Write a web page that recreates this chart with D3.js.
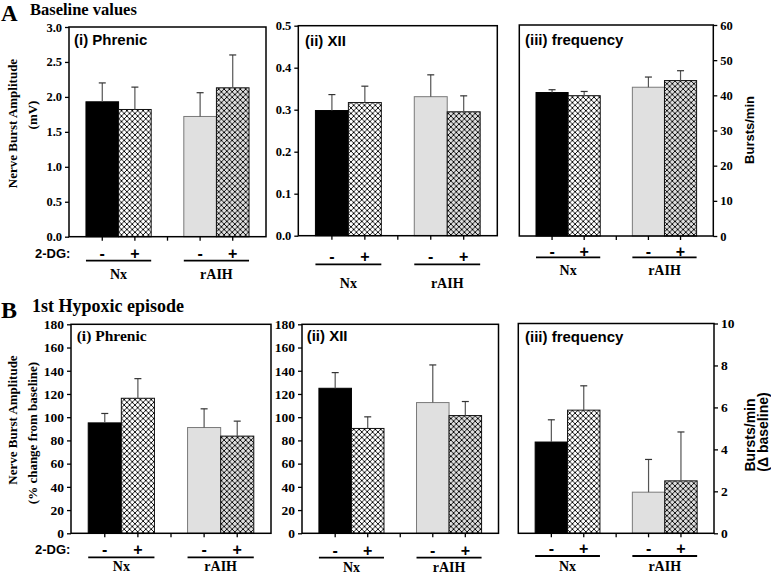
<!DOCTYPE html>
<html><head><meta charset="utf-8">
<script src="https://cdn.jsdelivr.net/npm/d3@7"></script>
<style>body{margin:0;background:#fff} svg{display:block}</style>
</head><body>
<svg id="c" width="771" height="575"></svg>
<script>
// ---------- data ----------
const conditions = ["Nx -", "Nx +", "rAIH -", "rAIH +"];
const slots = ["Nx -", "Nx +", "gap", "rAIH -", "rAIH +"];
const groups = ["Nx", "rAIH"];
const drugLabels = ["-", "+", "-", "+"];

const baselinePhrenicMean = [1.93, 1.82, 1.72, 2.13];
const baselinePhrenicSem  = [0.27, 0.32, 0.34, 0.47];
const baselineXIIMean = [0.298, 0.317, 0.331, 0.295];
const baselineXIISem  = [0.038, 0.039, 0.052, 0.038];
const baselineFreqMean = [40.8, 39.9, 42.3, 44.2];
const baselineFreqSem  = [0.8, 1.2, 2.9, 2.8];

const hypoxPhrenicMean = [95.1, 116.3, 91.1, 83.7];
const hypoxPhrenicSem  = [8.1, 16.9, 16.1, 12.9];
const hypoxXIIMean = [124.9, 90.3, 112.6, 101.4];
const hypoxXIISem  = [13.5, 10.0, 32.4, 12.1];
const hypoxFreqMean = [4.35, 5.87, 1.96, 2.50];
const hypoxFreqSem  = [1.06, 1.16, 1.56, 2.33];

const ticksBaselinePhrenic = [0, 0.5, 1.0, 1.5, 2.0, 2.5, 3.0];
const ticksBaselineXII = [0, 0.1, 0.2, 0.3, 0.4, 0.5];
const ticksBaselineFreq = [0, 10, 20, 30, 40, 50, 60];
const ticksHypoxAmp = [0, 20, 40, 60, 80, 100, 120, 140, 160, 180];
const ticksHypoxFreq = [0, 2, 4, 6, 8, 10];

// ---------- setup ----------
const SERIF = "'Liberation Serif','Times New Roman',serif";
const SANS = "'Liberation Sans',Arial,sans-serif";
const svg = d3.select("#c");
const defs = svg.append("defs");
function hatch(id, bg) {
  const s = 5.4;
  const p = defs.append("pattern").attr("id", id).attr("patternUnits", "userSpaceOnUse")
    .attr("width", s).attr("height", s);
  p.append("rect").attr("width", s).attr("height", s).attr("fill", bg);
  p.append("path").attr("d", `M-1,-1L${s+1},${s+1}M${s+1},-1L-1,${s+1}`)
    .attr("stroke", "#000").attr("stroke-width", 0.9);
}
hatch("hatchW", "#ffffff");
hatch("hatchG", "#dedede");
const fills = {"Nx -": "#000", "Nx +": "url(#hatchW)", "rAIH -": "#e0e0e0", "rAIH +": "url(#hatchG)"};
const strokes = {"Nx -": "#000", "Nx +": "#111", "rAIH -": "#7a7a7a", "rAIH +": "#111"};

function panel(c) {
  const {x0, x1, y0, y1} = c.box;
  const x = d3.scaleBand().domain(slots).range([x0, x1]).paddingInner(0).paddingOuter(0.52);
  const y = d3.scaleLinear().domain([0, c.ticks[c.ticks.length - 1]]).range([y1, y0]);
  const g = svg.append("g");
  // bars
  g.selectAll("rect.bar").data(conditions).join("rect").attr("class", "bar")
    .attr("x", d => x(d)).attr("width", x.bandwidth())
    .attr("y", (d, i) => y(c.mean[i])).attr("height", (d, i) => y(0) - y(c.mean[i]))
    .attr("fill", d => fills[d]).attr("stroke", d => strokes[d]).attr("stroke-width", 1);
  // error bars
  const cx = d => x(d) + x.bandwidth() / 2;
  g.selectAll("line.err").data(conditions).join("line").attr("class", "err")
    .attr("x1", cx).attr("x2", cx)
    .attr("y1", (d, i) => y(c.mean[i])).attr("y2", (d, i) => y(c.mean[i] + c.sem[i]))
    .attr("stroke", "#555").attr("stroke-width", 1.2);
  g.selectAll("line.cap").data(conditions).join("line").attr("class", "cap")
    .attr("x1", d => cx(d) - 3.5).attr("x2", d => cx(d) + 3.5)
    .attr("y1", (d, i) => y(c.mean[i] + c.sem[i])).attr("y2", (d, i) => y(c.mean[i] + c.sem[i]))
    .attr("stroke", "#333").attr("stroke-width", 1.2);
  // frame
  g.append("rect").attr("x", x0).attr("y", y0).attr("width", x1 - x0).attr("height", y1 - y0)
    .attr("fill", "none").attr("stroke", "#000").attr("stroke-width", 1.5);
  // y axis
  const ax = (c.right ? d3.axisRight(y) : d3.axisLeft(y))
    .tickValues(c.ticks).tickFormat(d3.format(c.fmt)).tickSize(4).tickPadding(3);
  const ag = g.append("g").attr("transform", `translate(${c.right ? x1 : x0},0)`).call(ax);
  ag.select(".domain").remove();
  ag.selectAll("line").attr("stroke", "#000").attr("stroke-width", 1.3);
  ag.selectAll("text").attr("font-family", SERIF).attr("font-weight", "bold")
    .attr("font-size", c.tickSize).attr("fill", "#000");
  // x axis ticks
  const xg = g.append("g").attr("transform", `translate(0,${y1})`)
    .call(d3.axisBottom(x).tickSize(4).tickFormat(""));
  xg.select(".domain").remove();
  xg.selectAll("line").attr("stroke", "#000").attr("stroke-width", 1.3);
  // title
  g.append("text").attr("x", c.title.x).attr("y", c.title.y).text(c.title.text)
    .attr("font-family", c.title.serif ? SERIF : SANS).attr("font-weight", "bold")
    .attr("font-size", c.title.size).attr("fill", "#000");
  // drug labels
  g.selectAll("text.drug").data(conditions).join("text").attr("class", "drug")
    .attr("x", cx).attr("y", c.pmY + 5.5).attr("text-anchor", "middle")
    .attr("font-family", SANS).attr("font-weight", "bold").attr("font-size", 16)
    .text((d, i) => drugLabels[i]);
  // group lines + labels
  groups.forEach((gr, i) => {
    const a = conditions[i * 2], b = conditions[i * 2 + 1];
    g.append("line").attr("x1", x(a)).attr("x2", x(b) + x.bandwidth())
      .attr("y1", c.lineY).attr("y2", c.lineY).attr("stroke", "#000").attr("stroke-width", 1.8);
    g.append("text").attr("x", (x(a) + x(b) + x.bandwidth()) / 2).attr("y", c.grpY)
      .attr("text-anchor", "middle").attr("font-family", SERIF).attr("font-weight", "bold")
      .attr("font-size", 14).text(gr);
  });
  // y labels
  (c.ylab || []).forEach(l => {
    g.append("text").attr("transform", `translate(${l.x},${l.y}) rotate(-90)`)
      .attr("text-anchor", "middle").attr("font-family", l.serif ? SERIF : SANS)
      .attr("font-weight", "bold").attr("font-size", l.size).text(l.text);
  });
  if (c.dg) {
    g.append("text").attr("x", c.dg.x).attr("y", c.dg.y).text("2-DG:")
      .attr("font-family", SANS).attr("font-weight", "bold").attr("font-size", 13);
  }
}

// ---------- panels ----------
panel({box: {x0: 69, x1: 266, y0: 27, y1: 236.7}, mean: baselinePhrenicMean, sem: baselinePhrenicSem,
  ticks: ticksBaselinePhrenic, fmt: ".1f", tickSize: 12.5,
  title: {text: "(i) Phrenic", x: 74, y: 45, size: 15},
  pmY: 253, lineY: 260.7, grpY: 279, dg: {x: 35, y: 257.5},
  ylab: [{text: "Nerve Burst Amplitude", x: 16.5, y: 123.5, size: 13, serif: true},
         {text: "(mV)", x: 36.5, y: 115, size: 13, serif: true}]});
panel({box: {x0: 298.3, x1: 497.3, y0: 25.7, y1: 235.7}, mean: baselineXIIMean, sem: baselineXIISem,
  ticks: ticksBaselineXII, fmt: ".1f", tickSize: 12.5,
  title: {text: "(ii) XII", x: 305, y: 45.5, size: 15},
  pmY: 256, lineY: 264.3, grpY: 288});
panel({box: {x0: 519.3, x1: 713.3, y0: 25, y1: 236}, mean: baselineFreqMean, sem: baselineFreqSem,
  ticks: ticksBaselineFreq, fmt: "d", tickSize: 12.5, right: true,
  title: {text: "(iii) frequency", x: 525, y: 45, size: 15},
  pmY: 251, lineY: 257.3, grpY: 275,
  ylab: [{text: "Bursts/min", x: 754, y: 130, size: 13}]});

panel({box: {x0: 71, x1: 271, y0: 324.3, y1: 533.3}, mean: hypoxPhrenicMean, sem: hypoxPhrenicSem,
  ticks: ticksHypoxAmp, fmt: "d", tickSize: 13.5,
  title: {text: "(i) Phrenic", x: 76.7, y: 341, size: 15.5, serif: true},
  pmY: 549, lineY: 557.3, grpY: 571, dg: {x: 35, y: 553.5},
  ylab: [{text: "Nerve Burst Amplitude", x: 16.5, y: 420, size: 13, serif: true},
         {text: "(% change from baseline)", x: 36.5, y: 433, size: 13, serif: true}]});
panel({box: {x0: 302, x1: 498.5, y0: 324.3, y1: 533.3}, mean: hypoxXIIMean, sem: hypoxXIISem,
  ticks: ticksHypoxAmp, fmt: "d", tickSize: 13.5,
  title: {text: "(ii) XII", x: 306.7, y: 341, size: 15},
  pmY: 550, lineY: 557.7, grpY: 571.5});
panel({box: {x0: 518.3, x1: 714, y0: 323.5, y1: 533.3}, mean: hypoxFreqMean, sem: hypoxFreqSem,
  ticks: ticksHypoxFreq, fmt: "d", tickSize: 13.5, right: true,
  title: {text: "(iii) frequency", x: 525, y: 341.7, size: 15},
  pmY: 548, lineY: 556, grpY: 570.5,
  ylab: [{text: "Bursts/min", x: 755, y: 435, size: 14},
         {text: "(Δ baseline)", x: 768, y: 432, size: 14}]});

// section headings
svg.append("text").attr("x", 1).attr("y", 21).text("A")
  .attr("font-family", SERIF).attr("font-weight", "bold").attr("font-size", 23);
svg.append("text").attr("x", 30).attr("y", 15).text("Baseline values")
  .attr("font-family", SERIF).attr("font-weight", "bold").attr("font-size", 16.5);
svg.append("text").attr("x", 1).attr("y", 318).text("B")
  .attr("font-family", SERIF).attr("font-weight", "bold").attr("font-size", 24);
svg.append("text").attr("x", 32).attr("y", 312).text("1st Hypoxic episode")
  .attr("font-family", SERIF).attr("font-weight", "bold").attr("font-size", 18);
</script>
</body></html>
